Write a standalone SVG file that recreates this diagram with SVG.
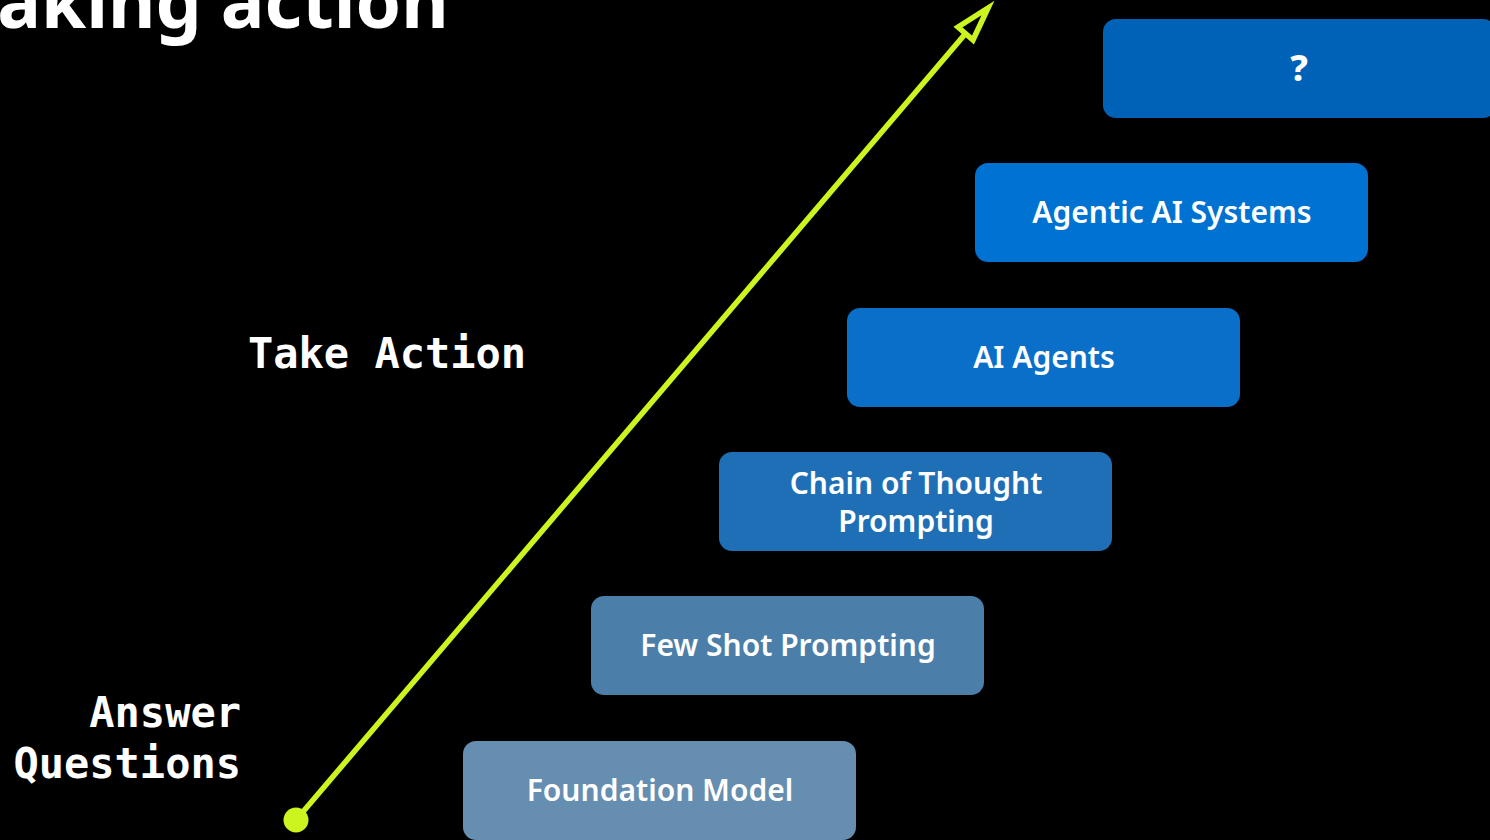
<svg xmlns="http://www.w3.org/2000/svg" width="1490" height="840" viewBox="0 0 1490 840">
<style>
.box{stroke:none}
.bt{font-family:"Noto Sans","Open Sans","Liberation Sans",sans-serif;font-weight:600;font-size:30px;fill:#ffffff;text-anchor:middle}
.mono{font-family:"DejaVu Sans Mono","Liberation Mono",monospace;font-weight:bold;font-size:42px;fill:#ffffff}
.title{font-family:"Noto Sans","Open Sans","Liberation Sans",sans-serif;font-weight:bold;font-size:73px;fill:#ffffff}
.conn{stroke:#ccf51f;stroke-width:5.5;fill:none;stroke-linejoin:miter}
</style>
<rect x="0" y="0" width="1490" height="840" fill="#000000"/>
<text class="title" x="-39" y="28">Taking action</text>
<text class="mono" x="248" y="368">Take Action</text>
<text class="mono" x="241" y="727" text-anchor="end">Answer</text>
<text class="mono" x="241" y="778" text-anchor="end">Questions</text>
<g id="connectors">
<line class="conn" x1="296" y1="820" x2="966" y2="33"/>
<polygon class="conn" points="988,8 958,27 973,40"/>
<circle cx="296" cy="820" r="12.5" fill="#ccf51f"/>
</g>
<g id="n1"><rect class="box" x="463" y="741" width="393" height="99" rx="13" fill="#668eb0"/><text class="bt" x="660" y="801">Foundation Model</text></g>
<g id="n2"><rect class="box" x="591" y="596" width="393" height="99" rx="13" fill="#4b7ea8"/><text class="bt" x="788" y="656">Few Shot Prompting</text></g>
<g id="n3"><rect class="box" x="719" y="452" width="393" height="99" rx="13" fill="#1f6fb6"/><text class="bt" x="916" y="494">Chain of Thought</text><text class="bt" x="916" y="532">Prompting</text></g>
<g id="n4"><rect class="box" x="847" y="308" width="393" height="99" rx="13" fill="#0a6fc9"/><text class="bt" x="1044" y="368">AI Agents</text></g>
<g id="n5"><rect class="box" x="975" y="163" width="393" height="99" rx="13" fill="#0072d1"/><text class="bt" x="1172" y="223">Agentic AI Systems</text></g>
<g id="n6"><rect class="box" x="1103" y="19" width="393" height="99" rx="13" fill="#0062b6"/><text class="bt" x="1299" y="81" style="font-weight:800;font-size:36px">?</text></g>
</svg>
